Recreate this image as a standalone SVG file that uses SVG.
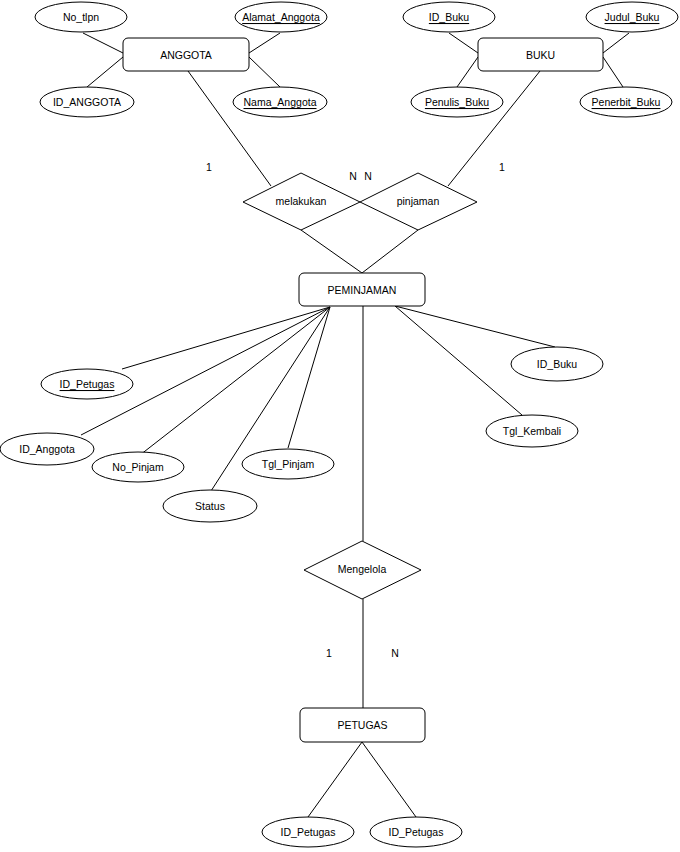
<svg xmlns="http://www.w3.org/2000/svg" width="680" height="852" viewBox="0 0 680 852">
<style>
.s{fill:#fff;stroke:#000;stroke-width:1}
.c line{stroke:#000;stroke-width:1}
text{font-family:"Liberation Sans",Arial,sans-serif;font-size:10.5px;fill:#000;text-anchor:middle;dominant-baseline:central}
.u{text-decoration:underline}
</style>
<rect width="680" height="852" fill="#fff"/>
<g class="c" id="connectors">
<line x1="83" y1="33" x2="123" y2="53"/>
<line x1="280" y1="33" x2="249" y2="53"/>
<line x1="87" y1="87" x2="123" y2="57"/>
<line x1="280" y1="87" x2="249" y2="57"/>
<line x1="188" y1="71" x2="271" y2="186"/>
<line x1="449" y1="33" x2="478" y2="53"/>
<line x1="629" y1="33" x2="603" y2="53"/>
<line x1="457" y1="87" x2="478" y2="57"/>
<line x1="623" y1="87" x2="603" y2="57"/>
<line x1="540" y1="71" x2="448" y2="186"/>
<line x1="301" y1="230" x2="362" y2="273"/>
<line x1="418" y1="230" x2="362" y2="273"/>
<line x1="330" y1="307" x2="122" y2="369"/>
<line x1="330" y1="307" x2="81" y2="435"/>
<line x1="330" y1="307" x2="140" y2="455"/>
<line x1="330" y1="307" x2="211" y2="491"/>
<line x1="330" y1="307" x2="288" y2="448"/>
<line x1="395" y1="306" x2="555" y2="347"/>
<line x1="395" y1="306" x2="522" y2="415"/>
<line x1="363" y1="306" x2="363" y2="541"/>
<line x1="363" y1="599" x2="363" y2="708"/>
<line x1="362" y1="742" x2="308" y2="817"/>
<line x1="362" y1="742" x2="416" y2="817"/>
</g>
<g id="anggota"><rect class="s" x="123" y="38" width="126" height="33" rx="5"/><text x="186" y="54.5">ANGGOTA</text></g>
<g id="no_tlpn"><ellipse class="s" cx="81" cy="17" rx="46" ry="15"/><text x="81" y="17">No_tlpn</text></g>
<g id="alamat_anggota"><ellipse class="s" cx="281" cy="17" rx="46" ry="15"/><text class="u" x="281" y="17">Alamat_Anggota</text></g>
<g id="id_anggota_a"><ellipse class="s" cx="87" cy="102" rx="47" ry="15"/><text x="87" y="102">ID_ANGGOTA</text></g>
<g id="nama_anggota"><ellipse class="s" cx="280" cy="102" rx="47" ry="15"/><text class="u" x="280" y="102">Nama_Anggota</text></g>
<g id="buku"><rect class="s" x="478" y="38" width="125" height="33" rx="5"/><text x="540.5" y="54.5">BUKU</text></g>
<g id="id_buku_b"><ellipse class="s" cx="449" cy="17" rx="46" ry="15"/><text class="u" x="449" y="17">ID_Buku</text></g>
<g id="judul_buku"><ellipse class="s" cx="632" cy="17" rx="46" ry="15"/><text class="u" x="632" y="17">Judul_Buku</text></g>
<g id="penulis_buku"><ellipse class="s" cx="457" cy="102" rx="46" ry="15"/><text class="u" x="457" y="102">Penulis_Buku</text></g>
<g id="penerbit_buku"><ellipse class="s" cx="626" cy="102" rx="46" ry="15"/><text class="u" x="626" y="102">Penerbit_Buku</text></g>
<g id="melakukan"><polygon class="s" points="243,202 301,173 360,202 301,230"/><text x="301" y="201">melakukan</text></g>
<g id="pinjaman"><polygon class="s" points="360,202 418,173 477,202 418,230"/><text x="418" y="201">pinjaman</text></g>
<g id="peminjaman"><rect class="s" x="299" y="273" width="126" height="33" rx="5"/><text x="362" y="289.5">PEMINJAMAN</text></g>
<g id="id_petugas_p"><ellipse class="s" cx="87" cy="384" rx="46" ry="15"/><text class="u" x="87" y="384">ID_Petugas</text></g>
<g id="id_anggota_p"><ellipse class="s" cx="47" cy="449" rx="47" ry="16"/><text x="47" y="449">ID_Anggota</text></g>
<g id="no_pinjam"><ellipse class="s" cx="138" cy="467" rx="46" ry="15"/><text x="138" y="467">No_Pinjam</text></g>
<g id="status"><ellipse class="s" cx="210" cy="506" rx="47" ry="16"/><text x="210" y="506">Status</text></g>
<g id="tgl_pinjam"><ellipse class="s" cx="288" cy="464" rx="46" ry="15"/><text x="288" y="464">Tgl_Pinjam</text></g>
<g id="id_buku_p"><ellipse class="s" cx="557" cy="364" rx="46" ry="17"/><text x="557" y="364">ID_Buku</text></g>
<g id="tgl_kembali"><ellipse class="s" cx="532" cy="431" rx="46" ry="16"/><text x="532" y="431">Tgl_Kembali</text></g>
<g id="mengelola"><polygon class="s" points="304,570 362,541 421,570 362,599"/><text x="362" y="569">Mengelola</text></g>
<g id="petugas"><rect class="s" x="300" y="708" width="125" height="34" rx="5"/><text x="362.5" y="725">PETUGAS</text></g>
<g id="id_petugas_1"><ellipse class="s" cx="308" cy="832" rx="46" ry="15"/><text x="308" y="832">ID_Petugas</text></g>
<g id="id_petugas_2"><ellipse class="s" cx="416" cy="832" rx="46" ry="15"/><text x="416" y="832">ID_Petugas</text></g>
<g id="labels">
<text x="209" y="167">1</text>
<text x="353" y="176">N</text>
<text x="368" y="176">N</text>
<text x="502" y="167">1</text>
<text x="329" y="653">1</text>
<text x="395" y="653">N</text>
</g>
</svg>
